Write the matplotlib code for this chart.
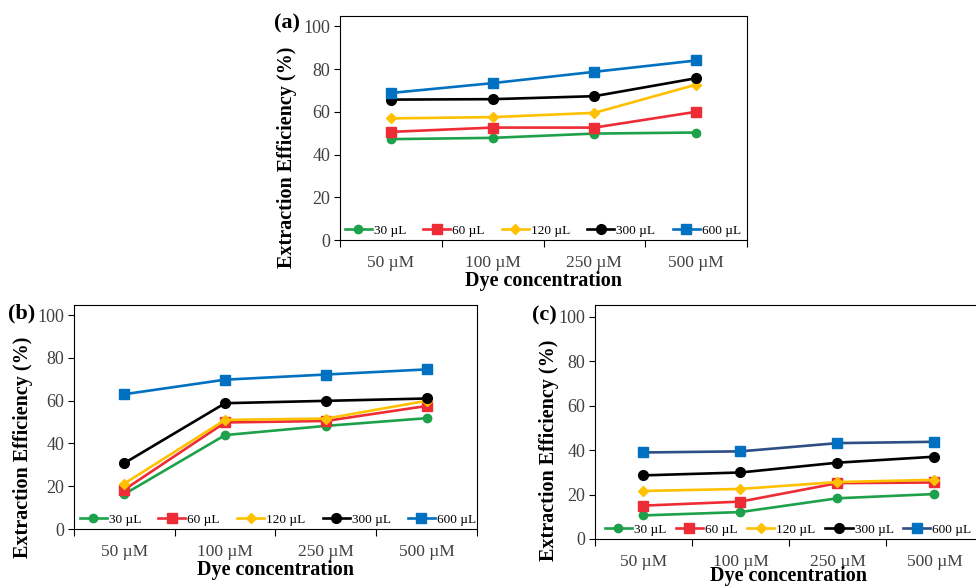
import matplotlib
matplotlib.use("Agg")
import matplotlib.pyplot as plt

plt.rcParams["font.family"] = ["Liberation Serif", "DejaVu Serif"]

# dye concentrations on the x axis
concentrations = ["50 µM", "100 µM", "250 µM", "500 µM"]
volumes = ["30 µL", "60 µL", "120 µL", "300 µL", "600 µL"]

# extraction efficiency (%) for each solvent volume
eff_a = {
    "30 µL": [47.2, 47.8, 49.8, 50.3],
    "60 µL": [50.6, 52.6, 52.6, 60.0],
    "120 µL": [56.9, 57.5, 59.5, 72.7],
    "300 µL": [65.7, 65.9, 67.3, 75.7],
    "600 µL": [68.8, 73.4, 78.7, 84.0],
}
eff_b = {
    "30 µL": [16.3, 43.9, 48.2, 51.8],
    "60 µL": [18.4, 49.8, 50.5, 57.5],
    "120 µL": [21.2, 51.0, 51.6, 59.9],
    "300 µL": [30.8, 58.8, 59.9, 61.0],
    "600 µL": [63.0, 69.8, 72.2, 74.6],
}
eff_c = {
    "30 µL": [10.6, 12.1, 18.3, 20.2],
    "60 µL": [15.0, 16.8, 25.1, 25.4],
    "120 µL": [21.6, 22.5, 25.6, 26.6],
    "300 µL": [28.6, 29.9, 34.3, 37.0],
    "600 µL": [38.9, 39.4, 43.1, 43.7],
}

STYLE = {
    "30 µL":  dict(color="#1DA14A", marker="o", ms=6),
    "60 µL":  dict(color="#EE2C36", marker="s", ms=6.5),
    "120 µL": dict(color="#FFC000", marker="D", ms=5),
    "300 µL": dict(color="#000000", marker="o", ms=7),
    "600 µL": dict(color="#0070C0", marker="s", ms=7),
}
TICK_COLOR = "#404040"


def draw_panel(ax, data, ytop, ylab_xy, line600=None, leg_x=0.012, colsp=1.3,
               xpad=-0.5):
    x = list(range(len(concentrations)))
    for v in volumes:
        st = STYLE[v]
        lc = st["color"]
        if v == "600 µL" and line600:
            lc = line600
        ax.plot(x, data[v], color=lc, lw=1.9, marker=st["marker"],
                ms=st["ms"], mfc=st["color"], mec=st["color"], label=v)

    ax.set_xlim(-0.5, 3.5)
    ax.set_ylim(0, ytop)
    ax.set_yticks(range(0, 101, 20))
    # boundary ticks without labels, category labels centred in between
    ax.set_xticks([-0.5, 0.5, 1.5, 2.5, 3.5])
    ax.set_xticklabels([])
    ax.set_xticks(x, concentrations, minor=True)
    ax.tick_params(axis="x", which="major", length=5, width=0.8, direction="out")
    ax.tick_params(axis="x", which="minor", length=0, pad=11,
                   labelsize=12.5, labelcolor=TICK_COLOR)
    ax.tick_params(axis="y", length=4, width=0.8, labelsize=13,
                   labelcolor=TICK_COLOR, pad=3)
    for s in ax.spines.values():
        s.set_color("black")
        s.set_linewidth(0.8)

    ax.set_xlabel("Dye concentration", fontsize=14.5, fontweight="bold", labelpad=xpad)
    ax.set_ylabel("Extraction Efficiency (%)", fontsize=14.5, fontweight="bold")
    ax.yaxis.set_label_coords(*ylab_xy)
    ax.legend(loc="lower left", bbox_to_anchor=(leg_x, 0.002), ncol=5,
              frameon=False, fontsize=9.5, handlelength=2.05, handletextpad=0.15,
              columnspacing=colsp, borderaxespad=0.0, borderpad=0.2)


fig = plt.figure(figsize=(9.76, 5.87), dpi=100)

ax_a = fig.add_axes([0.3484, 0.5911, 0.4170, 0.3816])
draw_panel(ax_a, eff_a, 104.8, (-0.106, 0.37), leg_x=0.005)
ax_b = fig.add_axes([0.0758, 0.0988, 0.4129, 0.3816])
draw_panel(ax_b, eff_b, 104.7, (-0.102, 0.364), leg_x=0.008)
ax_c = fig.add_axes([0.6096, 0.0818, 0.3975, 0.3986])
draw_panel(ax_c, eff_c, 105.2, (-0.092, 0.38), line600="#2E4E86",
           leg_x=0.018, colsp=0.75, xpad=-3)

fig.text(274 / 976, 1 - 23 / 587, "(a)", fontsize=16, fontweight="bold", va="center")
fig.text(8 / 976, 1 - 313 / 587, "(b)", fontsize=16, fontweight="bold", va="center")
fig.text(532 / 976, 1 - 315 / 587, "(c)", fontsize=16, fontweight="bold", va="center")

fig.savefig("out.png", dpi=100)
